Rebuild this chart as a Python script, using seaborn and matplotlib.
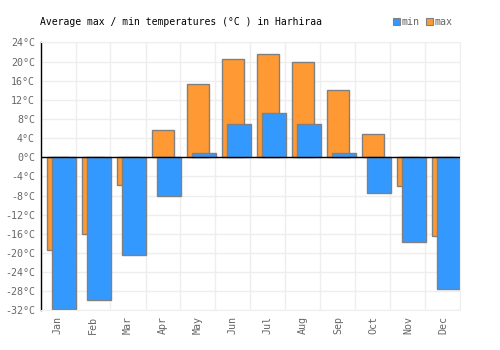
import pandas as pd
import seaborn as sns
import matplotlib.pyplot as plt
from matplotlib.ticker import FixedLocator

months = ['Jan', 'Feb', 'Mar', 'Apr', 'May', 'Jun', 'Jul', 'Aug', 'Sep', 'Oct', 'Nov', 'Dec']
t_max = [-19.4, -16.1, -5.9, 5.7, 15.2, 20.5, 21.5, 19.8, 14.0, 4.8, -6.1, -16.5]
t_min = [-31.6, -29.9, -20.5, -8.0, 0.8, 6.9, 9.2, 6.9, 0.8, -7.5, -17.8, -27.6]
y_ticks = list(range(-32, 25, 4))

c_min = '#3399ff'
c_max = '#ff9933'
edge = '#808080'

df = pd.DataFrame({'month': months, 'max': t_max, 'min': t_min})

sns.set_style('white')
plt.rcParams['font.family'] = ['DejaVu Sans Mono', 'DejaVu Sans']

fig = plt.figure(figsize=(5, 3.5), dpi=100)
ax = fig.add_axes([0.081, 0.113, 0.84, 0.766])

sns.barplot(data=df, x='month', y='max', color=c_max, saturation=1, width=0.65,
            edgecolor=edge, linewidth=1, ax=ax)
n_max = len(ax.patches)
sns.barplot(data=df, x='month', y='min', color=c_min, saturation=1, width=0.69,
            edgecolor=edge, linewidth=1, ax=ax)
# min bars sit shifted to the right, overlapping the max bars
for p in ax.patches[n_max:]:
    p.set_x(p.get_x() + 0.17)

ax.set_xlim(-0.5, 11.5)
ax.set_ylim(-32, 24)
ax.set_yticks(y_ticks)
ax.set_yticklabels(['{}°C'.format(v) for v in y_ticks])
ax.xaxis.set_minor_locator(FixedLocator([i - 0.5 for i in range(13)]))
ax.grid(True, which='minor', axis='x', color='#eeeeee', linewidth=1, zorder=0)
ax.grid(True, which='major', axis='y', color='#eeeeee', linewidth=1, zorder=0)
ax.set_axisbelow(True)
ax.axhline(0, color='black', linewidth=1, zorder=5)

ax.tick_params(axis='both', which='both', length=0, labelsize=7.2, labelcolor='#666666', pad=4)
plt.setp(ax.get_xticklabels(), rotation=90)
ax.set_xlabel('')
ax.set_ylabel('')

for s in ['top', 'right', 'bottom']:
    ax.spines[s].set_color('#eeeeee')
ax.spines['left'].set_color('black')
ax.spines['left'].set_linewidth(1)

fig.text(0.079, 0.937, 'Average max / min temperatures (°C ) in Harhiraa',
         fontsize=7, color='black', va='center', ha='left')

handles = [plt.Rectangle((0, 0), 1, 1, facecolor=c_min, edgecolor=edge, linewidth=0.8),
           plt.Rectangle((0, 0), 1, 1, facecolor=c_max, edgecolor=edge, linewidth=0.8)]
leg = fig.legend(handles, ['min', 'max'], loc='center right', bbox_to_anchor=(0.915, 0.937),
                 ncol=2, frameon=False, fontsize=7.2, handlelength=0.7, handleheight=0.7,
                 handletextpad=0.2, columnspacing=0.6, borderpad=0)
for t in leg.get_texts():
    t.set_color('#666666')

fig.savefig('out.png', dpi=100)
